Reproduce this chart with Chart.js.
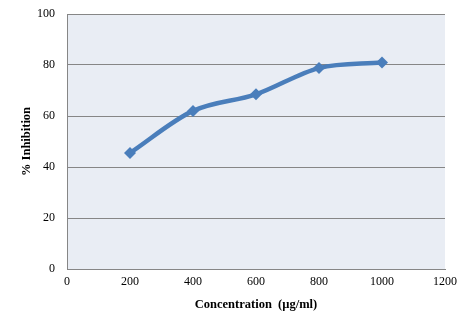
<!DOCTYPE html>
<html>
<head>
<meta charset="utf-8">
<script src="https://cdn.jsdelivr.net/npm/chart.js@4"></script>
<style>
  html, body { margin: 0; padding: 0; background: #fff; }
  #wrap { width: 473px; height: 328px; }
</style>
</head>
<body>
<div id="wrap"><canvas id="chart" width="473" height="328"></canvas></div>
<script>
// Concentration (µg/ml) vs % inhibition.
const concentrations = [200, 400, 600, 800, 1000];
const inhibition = [45.5, 62, 68.5, 78.8, 81];
const xTicks = [0, 200, 400, 600, 800, 1000, 1200];
const yTicks = [0, 20, 40, 60, 80, 100];

// Fill the plot area with the pale blue background.
const plotBackground = {
  id: 'plotBackground',
  beforeDraw(chart) {
    const { ctx, chartArea: a } = chart;
    ctx.save();
    ctx.fillStyle = '#E9EDF4';
    ctx.fillRect(a.left, a.top, a.right - a.left, a.bottom - a.top);
    ctx.restore();
  }
};

const ctx = document.getElementById('chart');
new Chart(ctx, {
  type: 'line',
  data: {
    datasets: [{
      data: concentrations.map((c, i) => ({ x: c, y: inhibition[i] })),
      borderColor: '#4A7EBB',
      backgroundColor: '#4A7EBB',
      borderWidth: 4.5,
      pointStyle: 'rectRot',
      pointRadius: 6,
      pointBorderWidth: 0,
      cubicInterpolationMode: 'monotone',
      fill: false
    }]
  },
  options: {
    responsive: false,
    animation: false,
    layout: { padding: { left: 0, right: 28, top: 14, bottom: 0 } },
    plugins: { legend: { display: false }, tooltip: { enabled: false } },
    scales: {
      x: {
        type: 'linear',
        min: 0,
        max: 1200,
        afterBuildTicks: (s) => { s.ticks = xTicks.map(v => ({ value: v })); },
        afterFit: (s) => { s.height = 59; },
        grid: { display: false, drawTicks: false },
        border: { display: true, color: '#868686', width: 1 },
        ticks: {
          padding: 6,
          color: '#000',
          font: { family: 'Liberation Serif', size: 12 },
          maxRotation: 0,
          callback: (v) => String(v)
        },
        title: {
          display: true,
          text: 'Concentration  (µg/ml)',
          color: '#000',
          font: { family: 'Liberation Serif', size: 12.5, weight: 'bold' },
          padding: { top: 0, bottom: 16 }
        }
      },
      y: {
        min: 0,
        max: 100,
        afterBuildTicks: (s) => { s.ticks = yTicks.map(v => ({ value: v })); },
        afterFit: (s) => { s.width = 67; s.paddingTop = 0; s.paddingBottom = 0; },
        grid: { color: '#868686', lineWidth: 1, drawTicks: false },
        border: { display: true, color: '#868686', width: 1 },
        ticks: {
          padding: 12,
          color: '#000',
          font: { family: 'Liberation Serif', size: 12 },
          callback: (v) => String(v)
        },
        title: {
          display: true,
          text: '% Inhibition',
          color: '#000',
          font: { family: 'Liberation Serif', size: 12.5, weight: 'bold' },
          padding: { top: 19, bottom: 0 }
        }
      }
    }
  },
  plugins: [plotBackground]
});
</script>
</body>
</html>
